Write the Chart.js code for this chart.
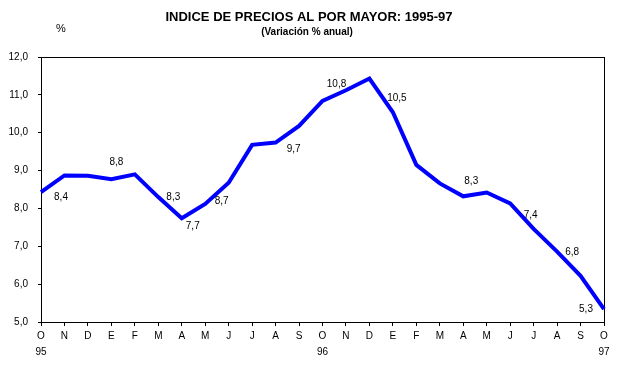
<!DOCTYPE html>
<html>
<head>
<meta charset="utf-8">
<title>Indice de precios al por mayor</title>
<script src="https://cdn.jsdelivr.net/npm/chart.js@4"></script>
<style>
  body { margin: 0; background: #fff; }
  canvas { display: block; }
</style>
</head>
<body>
<canvas id="myChart" width="619" height="368"></canvas>
<script>
// meses oct-95 .. oct-97
const meses = ['O','N','D','E','F','M','A','M','J','J','A','S','O','N','D','E','F','M','A','M','J','J','A','S','O'];
const anios = ['95', '96', '97'];   // debajo de cada "O"
const valores = [8.43, 8.87, 8.86, 8.77, 8.90, 8.30, 7.74, 8.12, 8.68, 9.68, 9.74, 10.18,
                 10.84, 11.12, 11.43, 10.54, 9.15, 8.66, 8.32, 8.42, 8.13, 7.46, 6.86, 6.22, 5.34];
const etiquetas = ['8,4', null, null, '8,8', null, '8,3', '7,7', null, '8,7', null, '9,7', null,
                   '10,8', null, null, '10,5', null, null, '8,3', null, null, '7,4', '6,8', null, '5,3'];

const labels = meses.map((m, i) => (i % 12 === 0 ? [m, anios[i / 12]] : m));

const FONT = '"Liberation Sans", Arial, sans-serif';

// desplazamiento de cada etiqueta respecto a su punto
const offsets = {
  0: [20, 5], 3: [5, -17], 5: [15, 0], 6: [11, 8], 8: [-7, 19], 10: [18, 7],
  12: [14, -17], 15: [4, -14], 18: [8, -15], 21: [-3, -14], 22: [15, 1], 24: [-18, 0]
};

const marco = {
  id: 'marco',
  beforeDatasetsDraw(chart) {
    const { ctx, chartArea: a } = chart;
    ctx.save();
    ctx.strokeStyle = '#000';
    ctx.lineWidth = 1;
    ctx.strokeRect(Math.round(a.left) + 0.5, Math.round(a.top) + 0.5,
                   Math.round(a.right - a.left), Math.round(a.bottom - a.top));
    ctx.restore();
  }
};

const textos = {
  id: 'textos',
  afterDraw(chart) {
    const ctx = chart.ctx;
    ctx.save();
    ctx.fillStyle = '#000';
    ctx.textAlign = 'center';
    ctx.textBaseline = 'alphabetic';
    ctx.font = 'bold 13px ' + FONT;
    ctx.fillText('INDICE DE PRECIOS AL POR MAYOR: 1995-97', 309, 21);
    ctx.font = 'bold 10px ' + FONT;
    ctx.fillText('(Variación % anual)', 307, 35);
    ctx.font = '11px ' + FONT;
    ctx.fillText('%', 61, 32);

    // etiquetas de datos
    const meta = chart.getDatasetMeta(0);
    ctx.font = '10px ' + FONT;
    ctx.textBaseline = 'middle';
    etiquetas.forEach((t, i) => {
      if (!t) return;
      const p = meta.data[i];
      const o = offsets[i] || [0, -12];
      ctx.fillText(t, p.x + o[0], p.y + o[1]);
    });
    ctx.restore();
  }
};

const data = {
  labels: labels,
  datasets: [{
    data: valores,
    borderColor: '#0000FF',
    borderWidth: 4,
    pointRadius: 0,
    tension: 0,
    fill: false
  }]
};

const config = {
  type: 'line',
  data: data,
  options: {
    responsive: false,
    animation: false,
    layout: { padding: { top: 57, right: 15, left: 0, bottom: 0 } },
    plugins: { legend: { display: false }, tooltip: { enabled: false } },
    scales: {
      x: {
        offset: false,
        grid: { drawOnChartArea: false, drawTicks: true, tickLength: 4, color: '#000' },
        border: { color: '#000' },
        ticks: {
          color: '#000', font: { family: FONT, size: 10, lineHeight: '16px' },
          padding: 2, maxRotation: 0, autoSkip: false
        },
        afterFit(s) { s.height = 46; }
      },
      y: {
        min: 5, max: 12,
        grid: { drawOnChartArea: false, drawTicks: true, tickLength: 3, color: '#000' },
        border: { color: '#000' },
        ticks: {
          stepSize: 1, color: '#000', padding: 10,
          font: { family: FONT, size: 10 },
          callback: v => v.toFixed(1).replace('.', ',')
        },
        afterFit(s) { s.width = 41; }
      }
    }
  },
  plugins: [marco, textos]
};

const myChart = new Chart(document.getElementById('myChart'), config);
</script>
</body>
</html>
